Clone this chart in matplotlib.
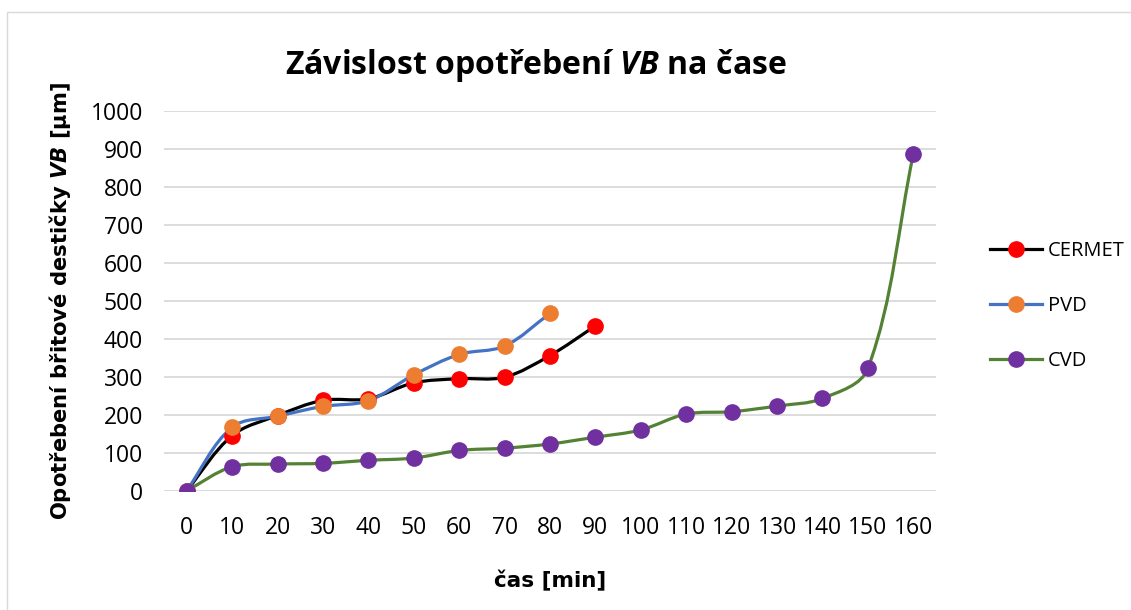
import matplotlib
matplotlib.use("Agg")
import matplotlib.pyplot as plt
from matplotlib.path import Path
from matplotlib.patches import PathPatch, Rectangle
from matplotlib.lines import Line2D
import numpy as np

plt.rcParams['font.family'] = ['Open Sans', 'DejaVu Sans']
plt.rcParams['mathtext.fontset'] = 'custom'
plt.rcParams['mathtext.sf'] = 'Open Sans:bold:italic'
plt.rcParams['mathtext.bfit'] = 'DejaVu Sans:bold:italic'
plt.rcParams['mathtext.it'] = 'Open Sans:italic'
plt.rcParams['mathtext.bf'] = 'Open Sans:bold'
plt.rcParams['mathtext.rm'] = 'Open Sans'

# ---- data ----
time_labels = ["0", "10", "20", "30", "40", "50", "60", "70", "80", "90", "100",
               "110", "120", "130", "140", "150", "160"]
t_cermet = [0, 10, 20, 30, 40, 50, 60, 70, 80, 90]
vb_cermet = [0, 145, 198, 238, 242, 284, 295, 299, 356, 434]
t_pvd = [0, 10, 20, 30, 40, 50, 60, 70, 80]
vb_pvd = [0, 167, 196, 222, 237, 305, 359, 381, 467]
t_cvd = [0, 10, 20, 30, 40, 50, 60, 70, 80, 90, 100, 110, 120, 130, 140, 150, 160]
vb_cvd = [0, 63, 70, 72, 80, 86, 106, 112, 123, 141, 160, 202, 208, 223, 243, 322, 886]

series = [
    ("CERMET", t_cermet, vb_cermet, "#000000", "#FF0000"),
    ("PVD", t_pvd, vb_pvd, "#4472C4", "#ED7D31"),
    ("CVD", t_cvd, vb_cvd, "#548235", "#7030A0"),
]

W, H = 1131, 610
fig = plt.figure(figsize=(W / 100, H / 100), dpi=100)
fig.patches.append(Rectangle((7 / W, 0 - 0.01), 1.05, 1 - 12 / H + 0.01,
                             transform=fig.transFigure, fill=False,
                             edgecolor="#D9D9D9", linewidth=1.0))

ax = fig.add_axes([164 / W, 1 - 490.7 / H, (936 - 164) / W, (490.7 - 111) / H])
ax.set_xlim(-5, 165)
ax.set_ylim(0, 1000)


def smooth_path(x, y):
    # smoothing done in display space so control points follow the drawn shape
    pts = ax.transData.transform(np.column_stack([x, y]).astype(float))
    n = len(pts)
    tang = []
    for i in range(n):
        a = pts[i - 1] if i > 0 else pts[i]
        b = pts[i + 1] if i + 1 < n else pts[i]
        d = b - a
        nrm = np.hypot(*d)
        tang.append(d / nrm if nrm > 0 else d)
    verts = [pts[0]]
    codes = [Path.MOVETO]
    for i in range(n - 1):
        seg = np.hypot(*(pts[i + 1] - pts[i]))
        c1 = pts[i] + tang[i] * seg / 3
        c2 = pts[i + 1] - tang[i + 1] * seg / 3
        verts += [c1, c2, pts[i + 1]]
        codes += [Path.CURVE4] * 3
    verts = ax.transData.inverted().transform(np.array(verts))
    return Path(verts, codes)


handles = []
for name, t, v, lc, mc in series:
    p = smooth_path(t, v)
    ax.add_patch(PathPatch(p, facecolor="none", edgecolor=lc, linewidth=2.3,
                           capstyle="round", joinstyle="round", zorder=3))
    ax.plot(t, v, linestyle="none", marker="o", markersize=11,
            markerfacecolor=mc, markeredgecolor=mc, zorder=4)
    handles.append(Line2D([], [], color=lc, linewidth=2.3, marker="o",
                          markersize=11, markerfacecolor=mc, markeredgecolor=mc,
                          label=name))

ax.set_xticks(t_cvd)
ax.set_xticklabels(time_labels)
ax.set_yticks(np.arange(0, 1001, 100))
ax.tick_params(axis="both", length=0, labelsize=16.5, colors="#000000")
ax.tick_params(axis="x", pad=18)
ax.tick_params(axis="y", pad=15)
for s in ax.spines.values():
    s.set_visible(False)
ax.grid(axis="y", color="#D9D9D9", linewidth=1.3)
ax.set_axisbelow(True)

ax.set_xlabel("čas [min]", fontsize=15.5, fontweight="bold", labelpad=22,
              family=["DejaVu Sans"])
ax.set_ylabel(r"Opotřebení břitové destičky $\mathbfit{VB}$ [µm]", fontsize=15.2,
              fontweight="bold", labelpad=13, family=["DejaVu Sans"])

fig.text(536 / W, 1 - 65 / H, r"Závislost opotřebení $\mathsf{VB}$ na čase",
         fontsize=23, fontweight="bold", ha="center", va="center")

fig.legend(handles=handles, loc="center left",
           bbox_to_anchor=(972 / W, 1 - 306 / H), frameon=False,
           fontsize=14.5, handlelength=2.6, handletextpad=0.25, labelspacing=1.75)

fig.savefig("out.png", dpi=100)
